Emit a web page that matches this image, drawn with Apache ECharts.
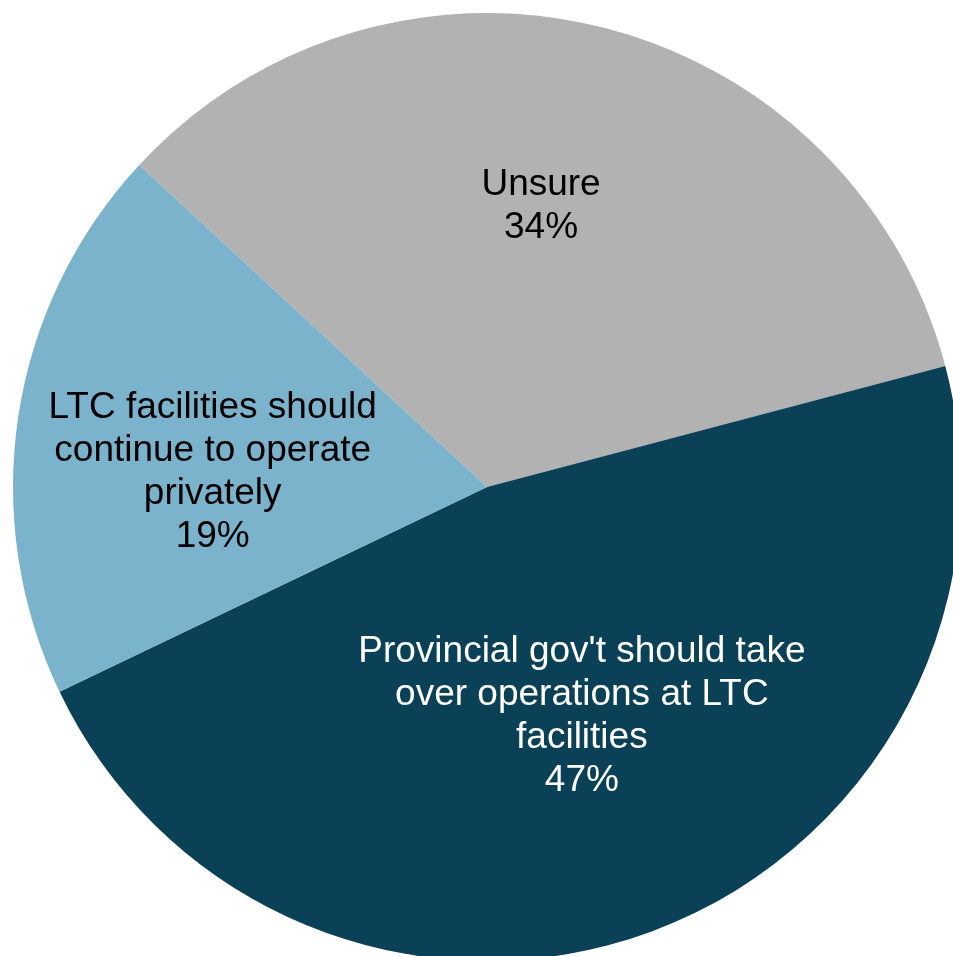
<!DOCTYPE html>
<html>
<head>
<meta charset="utf-8">
<script src="https://cdn.jsdelivr.net/npm/echarts@6/dist/echarts.min.js"></script>
<style>
html,body{margin:0;padding:0;background:#fff;}
#chart{width:953px;height:956px;}
</style>
</head>
<body>
<div id="chart"></div>
<script>
const categories = [
  "Unsure",
  "Provincial gov't should take\nover operations at LTC\nfacilities",
  "LTC facilities should\ncontinue to operate\nprivately"
];
const values = [34, 47, 19];

const colors = ['#b2b2b2', '#0a4157', '#7ab3cb'];
const labelColors = ['#000000', '#ffffff', '#000000'];
const labelOffsets = [[-4, -48], [12, 4], [-37, 21]];

const chart = echarts.init(document.getElementById('chart'), null, {renderer: 'canvas'});
chart.setOption({
  animation: false,
  backgroundColor: '#ffffff',
  series: [{
    type: 'pie',
    center: [487, 487],
    radius: 474,
    startAngle: 137.2,
    clockwise: true,
    avoidLabelOverlap: false,
    itemStyle: {borderWidth: 0},
    label: {
      show: true,
      position: 'inside',
      fontFamily: 'Liberation Sans, Arial, sans-serif',
      fontSize: 37,
      lineHeight: 43,
      align: 'center',
      formatter: p => p.name + '\n' + p.value + '%'
    },
    labelLine: {show: false},
    emphasis: {disabled: true},
    data: categories.map((c, i) => ({
      name: c,
      value: values[i],
      itemStyle: {color: colors[i]},
      label: {color: labelColors[i], offset: labelOffsets[i]}
    }))
  }]
});
</script>
</body>
</html>
